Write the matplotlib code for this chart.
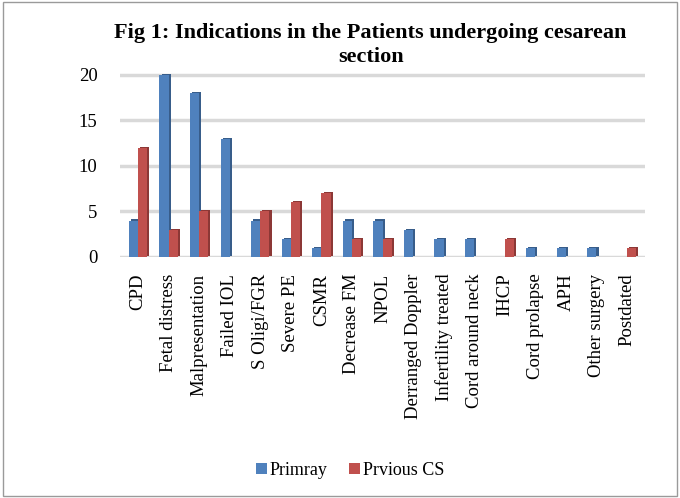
import matplotlib.pyplot as plt
from matplotlib.patches import Rectangle
import numpy as np

plt.rcParams['font.family'] = ['Liberation Serif', 'DejaVu Serif']

categories = ["CPD", "Fetal distress", "Malpresentation", "Failed IOL", "S Oligi/FGR",
              "Severe PE", "CSMR", "Decrease FM", "NPOL", "Derranged Doppler",
              "Infertility treated", "Cord around neck", "IHCP", "Cord prolapse",
              "APH", "Other surgery", "Postdated"]
primary = [4, 20, 18, 13, 4, 2, 1, 4, 4, 3, 2, 2, 0, 1, 1, 1, 0]
previous_cs = [12, 3, 5, 0, 5, 6, 7, 2, 2, 0, 0, 0, 2, 0, 0, 0, 1]

fig = plt.figure(figsize=(6.8, 4.98), dpi=100)
ax = fig.add_axes([0.176, 0.484, 0.773, 0.371])

x = np.arange(len(categories))
w = 0.3
d = 0.07  # fake depth for the 3d look

# darker side faces behind the bars
ax.bar(x - w / 2 + d, primary, w, bottom=0.12, color="#385D8A", zorder=2)
ax.bar(x + w / 2 + d, previous_cs, w, bottom=0.12, color="#8C3836", zorder=2)
ax.bar(x - w / 2, primary, w, color="#4F81BD", label="Primray", zorder=3)
ax.bar(x + w / 2, previous_cs, w, color="#C0504D", label="Prvious CS", zorder=3)

ax.set_ylim(0, 20.3)
ax.set_xlim(-0.6, len(categories) - 0.4)
ax.set_yticks([0, 5, 10, 15, 20])
ax.yaxis.grid(True, color="#D9D9D9", linewidth=2.5, zorder=0)
ax.set_axisbelow(True)
ax.set_xticks(x)
ax.set_xticklabels(categories, rotation=90, fontsize=13.5)
ax.tick_params(axis="y", labelsize=13.5, length=0, pad=16)
ax.tick_params(axis="x", length=0, pad=12)
for s in ax.spines.values():
    s.set_visible(False)

fig.text(0.545, 0.91, "Fig 1: Indications in the Patients undergoing cesarean\nsection",
         ha="center", va="center", fontsize=16, fontweight="bold", linespacing=1.3)

handles, labels = ax.get_legend_handles_labels()
fig.legend(handles, labels, loc="center", bbox_to_anchor=(0.515, 0.055), ncol=2,
           frameon=False, fontsize=13, handlelength=0.6, handleheight=0.6,
           handletextpad=0.15, columnspacing=1.2)

fig.patches.append(Rectangle((0.004, 0.004), 0.992, 0.992, transform=fig.transFigure,
                             fill=False, edgecolor="#9A9A9A", linewidth=1))

fig.savefig("out.png", dpi=100)
